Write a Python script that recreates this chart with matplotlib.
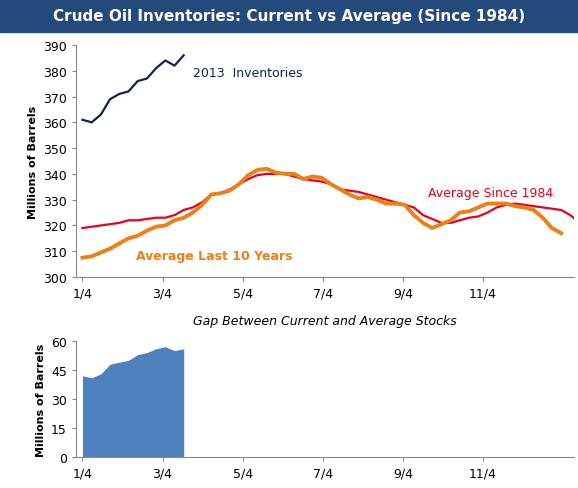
import matplotlib
matplotlib.use("Agg")
import matplotlib.pyplot as plt
import numpy as np

xticklabels = ["1/4", "3/4", "5/4", "7/4", "9/4", "11/4"]
xtickpos = [0, 8.7, 17.4, 26.1, 34.8, 43.5]

inv2013 = [361, 360, 363, 369, 371, 372, 376, 377, 381, 384, 382, 386]
avg1984 = [319, 319.5, 320, 320.5, 321, 322, 322, 322.5, 323, 323, 324, 326, 327, 329, 332, 332.5, 334, 336,
           338, 339.5, 340, 340, 340, 339, 338, 337.5, 337, 336, 334, 333.5, 333, 332, 331, 330, 329, 328,
           327, 324, 322.5, 321, 321, 322, 323, 323.5, 325, 327, 328, 328.5, 328, 327.5, 327, 326.5, 326, 324, 321]
avg10 = [307.5, 308, 309.5, 311, 313, 315, 316, 318, 319.5, 320, 322, 323, 325, 328, 332, 332.5, 333.5, 336,
         339.5, 341.5, 342, 340.5, 340, 340, 338, 339, 338.5, 336, 334, 332, 330.5, 331, 330, 328.5, 328.5, 328,
         324, 321, 319, 320.5, 322, 325, 325.5, 327, 328.5, 328.5, 328.5, 327.5, 327, 326, 323, 319, 317]
gap = [42, 41, 43, 48, 49, 50, 53, 54, 56, 57, 55, 56]

fig = plt.figure(figsize=(5.78, 4.89), dpi=100)
fig.patch.set_facecolor("white")
fig.patches.append(plt.Rectangle((0, 1 - 33/489), 1, 33/489, transform=fig.transFigure, color="#244A7C", zorder=0))
fig.text(0.5, 1 - 17/489, "Crude Oil Inventories: Current vs Average (Since 1984)", color="white",
         fontsize=11, fontweight="bold", ha="center", va="center")

W, H = 578, 489
def rect(l, t, r, b):
    return [l/W, 1 - b/H, (r-l)/W, (b-t)/H]

XMIN, XMAX = -0.7, 53.4

ax1 = fig.add_axes(rect(76, 46, 574, 278))
ax1.plot(range(len(avg1984)), avg1984, color="#E8001C", lw=1.6)
ax1.plot(range(len(avg10)), avg10, color="#EE7F16", lw=2.8)
ax1.plot(range(len(inv2013)), inv2013, color="#0F2452", lw=1.6)
ax1.set_ylim(300, 390)
ax1.set_yticks(range(300, 391, 10))
ax1.set_xlim(XMIN, XMAX)
ax1.set_xticks(xtickpos)
ax1.set_xticklabels(xticklabels)
ax1.set_ylabel("Millions of Barrels", fontsize=8, fontweight="bold")
ax1.text(12.0, 378, "2013  Inventories", color="#0F2452", fontsize=9)
ax1.text(37.5, 331.5, "Average Since 1984", color="#E8001C", fontsize=9)
ax1.text(5.8, 307, "Average Last 10 Years", color="#EE7F16", fontsize=9, fontweight="bold")

ax2 = fig.add_axes(rect(76, 342, 574, 458))
ax2.fill_between(range(len(gap)), gap, 0, color="#4F81BD", lw=0)
ax2.set_ylim(0, 60)
ax2.set_yticks(range(0, 61, 15))
ax2.set_xlim(XMIN, XMAX)
ax2.set_xticks(xtickpos)
ax2.set_xticklabels(xticklabels)
ax2.set_ylabel("Millions of Barrels", fontsize=8, fontweight="bold")
ax2.set_title("Gap Between Current and Average Stocks", fontsize=9, style="italic", pad=12)

for ax in (ax1, ax2):
    for s in ("top", "right"):
        ax.spines[s].set_visible(False)
    for s in ("left", "bottom"):
        ax.spines[s].set_color("#888888")
    ax.tick_params(labelsize=9, color="#888888", length=3)

fig.savefig("out.png", dpi=100)
